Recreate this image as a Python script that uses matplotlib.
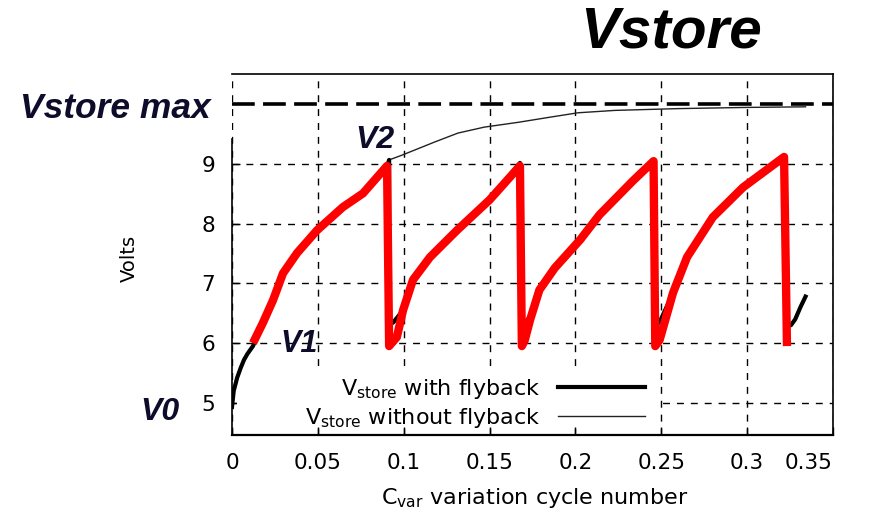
import numpy as np
import matplotlib.pyplot as plt
from matplotlib.patches import Rectangle

# storage voltage, with flyback (black trace, one drop per flyback)
t_fly = [0.0, 0.001, 0.003, 0.005, 0.007, 0.009, 0.0122, 0.018, 0.0239, 0.0297, 0.0379,
         0.0495, 0.0646, 0.0763, 0.0905, 0.0915,
         0.0915, 0.094, 0.0996, 0.1054, 0.1153, 0.131, 0.150, 0.1677,
         0.1685, 0.171, 0.1736, 0.179, 0.188, 0.2027, 0.214, 0.2335, 0.2455,
         0.2462, 0.249, 0.253, 0.2568, 0.265, 0.280, 0.2976, 0.3215,
         0.3225, 0.3255, 0.328, 0.331, 0.334]
v_fly = [4.93, 5.2, 5.42, 5.58, 5.72, 5.82, 5.95, 6.34, 6.72, 7.17, 7.51,
         7.89, 8.28, 8.51, 8.98, 9.07,
         6.3, 6.35, 6.55, 7.06, 7.44, 7.89, 8.40, 9.02,
         6.3, 6.35, 6.45, 6.89, 7.26, 7.73, 8.15, 8.72, 9.07,
         6.3, 6.35, 6.6, 6.84, 7.44, 8.11, 8.61, 9.13,
         6.3, 6.3, 6.4, 6.6, 6.78]

# storage voltage without flyback (thin trace)
t_nofly = [0.0, 0.001, 0.003, 0.005, 0.007, 0.009, 0.0122, 0.018, 0.0239, 0.0297, 0.0379,
           0.0495, 0.0646, 0.0763, 0.0905, 0.0915, 0.099, 0.118, 0.1316, 0.147,
           0.1666, 0.186, 0.2015, 0.223, 0.26, 0.30, 0.334]
v_nofly = [4.93, 5.2, 5.42, 5.58, 5.72, 5.82, 5.95, 6.34, 6.72, 7.17, 7.51,
           7.89, 8.28, 8.51, 8.98, 9.07, 9.15, 9.37, 9.52, 9.62,
           9.70, 9.79, 9.86, 9.90, 9.93, 9.95, 9.96]

# highlighted charge / flyback cycles between V1 and V2
t_cyc = [0.0122, 0.018, 0.0239, 0.0297, 0.0379, 0.0495, 0.0646, 0.0763, 0.0903, 0.0915,
         0.096, 0.0996, 0.1054, 0.1153, 0.131, 0.150, 0.1677, 0.1688,
         0.1705, 0.1736, 0.179, 0.188, 0.2027, 0.214, 0.2335, 0.2455, 0.2465,
         0.249, 0.2568, 0.265, 0.280, 0.2976, 0.3215, 0.3232]
v_cyc = [6.0, 6.34, 6.72, 7.17, 7.51, 7.89, 8.28, 8.51, 8.97, 5.95,
         6.1, 6.55, 7.06, 7.44, 7.89, 8.40, 8.97, 5.95,
         6.05, 6.39, 6.89, 7.26, 7.73, 8.15, 8.72, 9.05, 5.95,
         6.05, 6.84, 7.44, 8.11, 8.61, 9.12, 5.95]

v_max = 10.0
xticks = [0, 0.05, 0.1, 0.15, 0.2, 0.25, 0.3, 0.35]
xticklabels = ['0', '0.05', '0.1', '0.15', '0.2', '0.25', '0.3', '0.35']
yticks = [5, 6, 7, 8, 9]

fig = plt.figure(figsize=(8.79, 5.09), dpi=100)
ax = fig.add_axes([232/879, 74/509, 601/879, 361/509])
ax.set_xlim(0, 0.35)
ax.set_ylim(4.46, 10.51)

ax.set_axisbelow(True)
ax.grid(True, color='black', linestyle=(0, (5, 5)), linewidth=1.0)
# blank area behind the key
ax.add_patch(Rectangle((0.003, 4.60), 0.246, 0.92, facecolor='white', edgecolor='none', zorder=1))

ax.plot(t_nofly, v_nofly, color='#222222', lw=1.0, zorder=3, label=r'V$_{\mathrm{store}}$ without flyback')
ax.plot(t_fly, v_fly, color='black', lw=3, zorder=4, label=r'V$_{\mathrm{store}}$ with flyback')
ax.plot(t_cyc, v_cyc, color='#ff0000', lw=6, zorder=5, solid_capstyle='butt', solid_joinstyle='round')
ax.axhline(v_max, color='black', lw=2.6, dashes=(6.3, 2.3), zorder=6)

ax.set_xticks(xticks)
ax.set_xticklabels(xticklabels)
ax.get_xticklabels()[-1].set_ha('right')
ax.set_yticks(yticks)
ax.tick_params(axis='both', direction='in', length=6, width=1, labelsize=15.5)
ax.tick_params(axis='y', pad=12)
ax.tick_params(axis='x', pad=13)

for s in ['left', 'right', 'top']:
    ax.spines[s].set_linewidth(1.2)
ax.spines['bottom'].set_linewidth(1.6)
ax.spines['left'].set_bounds(4.46, 9.42)

ax.set_ylabel('Volts', fontsize=14)
ax.yaxis.set_label_coords(-0.155, 0.49)
ax.set_xlabel(r'C$_{\mathrm{var}}$ variation cycle number', fontsize=16)
ax.xaxis.set_label_coords(0.504, -0.14)

h, l = ax.get_legend_handles_labels()
ax.legend(h[::-1], l[::-1], loc='lower right', bbox_to_anchor=(0.687, 0.015),
          markerfirst=False, frameon=False, fontsize=16, handlelength=3.9,
          borderpad=0, borderaxespad=0, labelspacing=0.2, handletextpad=0.8)

# annotations
navy = '#0d0d2b'
font = dict(family='Liberation Sans', weight='bold', style='italic')
fig.text(580/879, 1 - 48/509, 'Vstore', fontsize=42, color='black', va='baseline', **font)
fig.text(20/879, 1 - 118/509, 'Vstore max', fontsize=25.5, color=navy, va='baseline', **font)
fig.text(355/879, 1 - 148/509, 'V2', fontsize=23, color=navy, va='baseline', **font)
fig.text(280/879, 1 - 352/509, 'V1', fontsize=22, color=navy, va='baseline', **font)
fig.text(140/879, 1 - 420/509, 'V0', fontsize=23, color=navy, va='baseline', **font)

fig.savefig('out.png', dpi=100)
